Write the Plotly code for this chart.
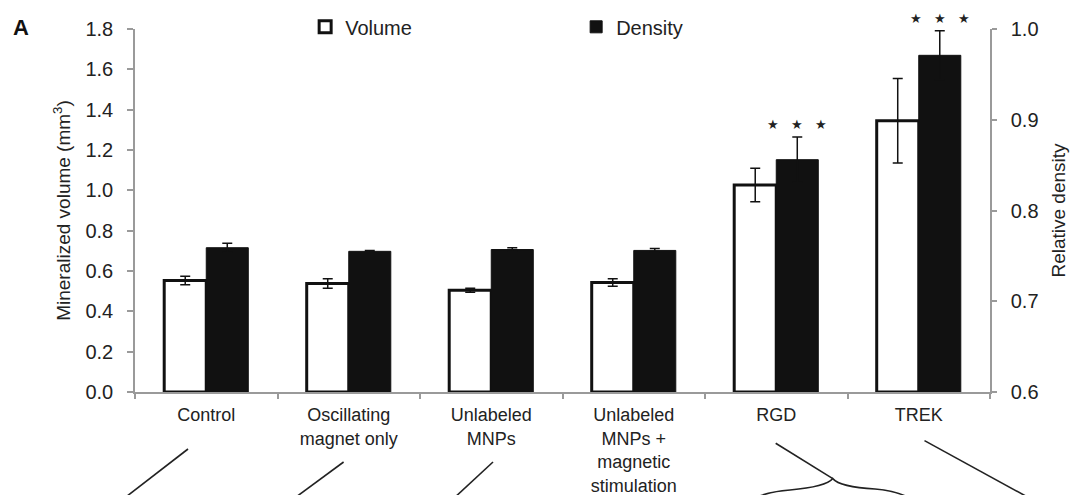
import plotly.graph_objects as go

categories = ["Control", "Oscillating<br>magnet only", "Unlabeled<br>MNPs",
              "Unlabeled<br>MNPs +<br>magnetic<br>stimulation", "RGD", "TREK"]
volume = [0.553, 0.538, 0.505, 0.543, 1.027, 1.345]
volume_err = [0.021, 0.024, 0.010, 0.018, 0.083, 0.210]
density = [0.759, 0.755, 0.757, 0.756, 0.856, 0.971]
density_err = [0.005, 0.001, 0.002, 0.002, 0.025, 0.027]
significant = [False, False, False, False, True, True]

left_ticks = [0.0, 0.2, 0.4, 0.6, 0.8, 1.0, 1.2, 1.4, 1.6, 1.8]
right_ticks = [0.6, 0.7, 0.8, 0.9, 1.0]

FONT = "Liberation Sans, Arial, Helvetica, sans-serif"
TXT = "#222222"
AX = "#9a9a9a"
W, H = 1072, 495
ML, MR, MT, MB = 135, 82, 29, 103
BARW = 0.295

fig = go.Figure()
fig.add_trace(go.Bar(
    name="Volume", x=categories, y=volume,
    width=BARW, offset=-BARW,
    marker=dict(color="white", line=dict(color="#111111", width=3)),
    error_y=dict(type="data", array=volume_err, color="#111111", thickness=1.5, width=5),
    yaxis="y",
))
fig.add_trace(go.Bar(
    name="Density", x=categories, y=density,
    width=BARW, offset=0,
    marker=dict(color="#111111", line=dict(color="#111111", width=1)),
    error_y=dict(type="data", array=density_err, color="#111111", thickness=1.5, width=5),
    yaxis="y2",
))

# significance stars above density bars
for i, (d, e, s) in enumerate(zip(density, density_err, significant)):
    if s:
        fig.add_annotation(
            x=i + BARW / 2, y=d + e, xref="x", yref="y2",
            text="★   ★   ★", showarrow=False, yanchor="bottom", yshift=3,
            font=dict(family="DejaVu Sans", size=13, color=TXT),
        )

# panel letter
fig.add_annotation(x=-0.145, y=1.005, xref="paper", yref="paper", text="<b>A</b>",
                   showarrow=False, xanchor="left", yanchor="middle",
                   font=dict(family=FONT, size=22, color="#111111"))

# decorative connector lines from the original figure (pixel coordinates -> paper)
pw, ph = W - ML - MR, H - MT - MB
def px(x):
    return (x - ML) / pw
def py(y):
    return (H - MB - y) / ph

segments = [((188, 449), (122, 500)), ((343.6, 462), (292, 500)),
            ((493, 462), (452, 500)), ((775.7, 443.3), (832.8, 478.6)),
            ((924.5, 440.6), (1033, 500))]
for (x0, y0), (x1, y1) in segments:
    fig.add_shape(type="line", xref="paper", yref="paper",
                  x0=px(x0), y0=py(y0), x1=px(x1), y1=py(y1),
                  line=dict(color="#222222", width=1.6))
brace = (f"M {px(751):.4f} {py(500):.4f} Q {px(765):.4f} {py(492):.4f} {px(790):.4f} {py(490):.4f} "
         f"Q {px(826):.4f} {py(487):.4f} {px(832.8):.4f} {py(478.6):.4f} "
         f"Q {px(840):.4f} {py(487):.4f} {px(875):.4f} {py(489):.4f} "
         f"Q {px(900):.4f} {py(491):.4f} {px(912):.4f} {py(500):.4f}")
fig.add_shape(type="path", xref="paper", yref="paper", path=brace,
              line=dict(color="#222222", width=1.6))

fig.update_layout(
    width=W, height=H,
    margin=dict(l=ML, r=MR, t=MT, b=MB, autoexpand=False),
    paper_bgcolor="white", plot_bgcolor="white",
    font=dict(family=FONT, color=TXT, size=20),
    barmode="overlay",
    showlegend=True,
    legend=dict(orientation="h", x=0.199, xanchor="left", y=1.006, yanchor="middle",
                font=dict(family=FONT, size=20, color=TXT), entrywidth=226,
                bgcolor="rgba(0,0,0,0)", traceorder="normal"),
    xaxis=dict(
        type="category", showline=True, linecolor=AX, linewidth=1.5,
        ticks="outside", tickson="boundaries", ticklen=5, tickcolor=AX, tickwidth=1.5,
        tickfont=dict(family=FONT, size=18, color=TXT), showgrid=False,
        range=[-0.5, 5.5], ticklabelstandoff=6,
    ),
    yaxis=dict(
        title=dict(text="Mineralized volume (mm<sup>3</sup>)", standoff=10,
                   font=dict(family=FONT, size=19, color=TXT)),
        range=[0, 1.8], tickvals=left_ticks, ticktext=[f"{v:.1f}" for v in left_ticks],
        showline=True, linecolor=AX, linewidth=1.5, ticks="outside", ticklen=6,
        tickcolor=AX, tickwidth=1.5, showgrid=False, zeroline=False,
        ticklabelstandoff=10, tickfont=dict(family=FONT, size=20, color=TXT),
    ),
    yaxis2=dict(
        title=dict(text="Relative density", standoff=14,
                   font=dict(family=FONT, size=19, color=TXT)),
        overlaying="y", side="right", range=[0.6, 1.0],
        tickvals=right_ticks, ticktext=[f"{v:.1f}" for v in right_ticks],
        showline=True, linecolor=AX, linewidth=1.5, ticks="outside", ticklen=5,
        tickcolor=AX, tickwidth=1.5, showgrid=False, zeroline=False,
        ticklabelstandoff=10, tickfont=dict(family=FONT, size=20, color=TXT),
    ),
)

fig.write_html("out.html", config={"displayModeBar": False},
               post_script="document.body.style.margin='0';")
